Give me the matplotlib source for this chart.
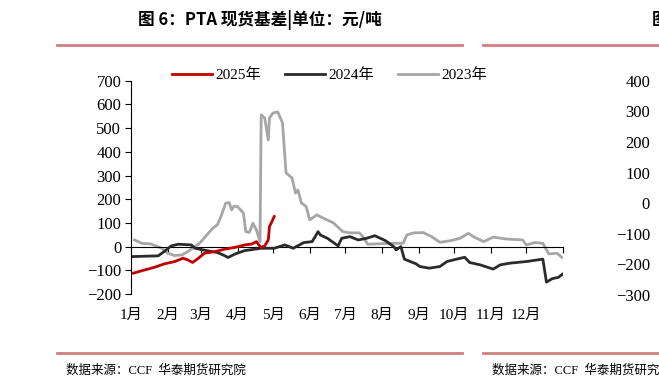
import matplotlib
matplotlib.use('Agg')
import matplotlib.pyplot as plt
from matplotlib.lines import Line2D

plt.rcParams['font.family'] = ['Liberation Serif', 'Noto Sans CJK SC']

# day of year -> basis (yuan/ton)
d25 = [2, 12, 20, 28, 37, 44, 48, 52, 57, 62, 71, 79, 88, 96, 102, 106, 108, 110, 113, 116, 117, 119, 121]
v25 = [-112, -98, -87, -73, -63, -49, -56, -67, -49, -28, -21, -11, -3, 7, 11, 21, 7, -3, 3, 28, 84, 105, 127]

d24 = [2, 23, 28, 34, 40, 51, 54, 65, 73, 79, 82, 88, 96, 110, 121, 130, 137, 146, 153, 156, 158, 160,
       166, 175, 178, 185, 192, 199, 206, 215, 222, 224, 228, 231, 236, 241, 244, 252, 261, 267, 275,
       282, 286, 295, 306, 312, 320, 334, 348, 351, 356, 361, 365]
v24 = [-42, -39, -21, 3, 10, 7, -7, -18, -25, -38, -46, -31, -17, -7, -7, 7, -7, 17, 21, 45, 63, 49,
       35, 3, 35, 42, 28, 35, 46, 25, 0, -14, 0, -53, -63, -73, -84, -91, -84, -63, -53,
       -45, -67, -77, -95, -77, -70, -63, -53, -150, -135, -130, -115]

d23 = [3, 9, 17, 26, 31, 37, 43, 48, 54, 58, 64, 69, 73, 76, 80, 83, 85, 87, 90, 95, 97, 100, 103, 106,
       109, 110, 113, 116, 117, 120, 124, 128, 131, 136, 139, 141, 144, 148, 151, 157, 162, 171, 179,
       185, 193, 196, 200, 210, 222, 230, 233, 239, 247, 254, 261, 270, 278, 285, 290, 298, 306, 317,
       331, 334, 341, 348, 353, 360, 364]
v23 = [28, 14, 11, -7, -28, -38, -35, -21, 0, 14, 49, 77, 92, 127, 183, 186, 155, 170, 169, 141, 63, 60,
       99, 70, 21, 556, 542, 450, 543, 564, 568, 522, 311, 290, 226, 239, 184, 169, 113, 134, 121, 100, 63,
       58, 58, 41, 10, 12, 14, 14, 49, 58, 59, 42, 18, 25, 35, 56, 40, 21, 40, 32,
       28, 7, 17, 14, -31, -28, -45]

month_ticks = [0, 31, 59, 90, 120, 151, 181, 212, 243, 273, 304, 334, 365]
month_labels = ['1月', '2月', '3月', '4月', '5月', '6月', '7月', '8月', '9月', '10月', '11月', '12月', '']
y_ticks = list(range(-200, 701, 100))
right_ticks = list(range(-300, 401, 100))

fig = plt.figure(figsize=(6.59, 3.89), dpi=100)
ax = fig.add_axes([131 / 659, 1 - 294 / 389, 432 / 659, (294 - 80.7) / 389])

ax.plot(d25, v25, color='#c00000', lw=2, label='2025年', zorder=4)
ax.plot(d24, v24, color='#2b2b2b', lw=2, label='2024年', zorder=3)
ax.plot(d23, v23, color='#a6a6a6', lw=2, label='2023年', zorder=2)

ax.set_xlim(0, 365)
ax.set_ylim(-200, 700)
ax.set_yticks(y_ticks)
ax.set_xticks(month_ticks)
ax.set_xticklabels(month_labels)
ax.spines['top'].set_visible(False)
ax.spines['right'].set_visible(False)
ax.spines['bottom'].set_position(('data', 0))
ax.tick_params(axis='y', direction='out', length=4, labelsize=12, pad=3)
ax.tick_params(axis='x', direction='out', length=4, labelsize=11, pad=41)

ax.legend(loc='lower center', bbox_to_anchor=(0.46, 0.93), ncol=3, frameon=False,
          fontsize=11, handlelength=2.6, columnspacing=1.6, handletextpad=0.2)

# neighbouring chart cut at the right edge
ax_r = fig.add_axes([657 / 659, 1 - 295 / 389, 0.05, (295 - 80.7) / 389])
ax_r.set_ylim(-300, 400)
ax_r.set_yticks(right_ticks)
ax_r.set_xticks([])
for s in ax_r.spines.values():
    s.set_visible(False)
ax_r.tick_params(axis='y', length=0, labelsize=12, pad=5)

fig.text(260 / 659, 1 - 20 / 389, '图 6：PTA 现货基差|单位：元/吨', ha='center', va='center',
         fontsize=12, fontweight='bold', family=['Noto Sans CJK SC'])
fig.text(652 / 659, 1 - 20 / 389, '图', ha='left', va='center',
         fontsize=12, fontweight='bold', family=['Noto Sans CJK SC'])
for x0, x1 in [(57, 462), (483, 659)]:
    for y in (45, 353):
        fig.add_artist(Line2D([x0 / 659, x1 / 659], [1 - y / 389] * 2, color='#cf7f7d', lw=2))
fig.text(66 / 659, 1 - 371 / 389, '数据来源：CCF  华泰期货研究院', ha='left', va='center', fontsize=9)
fig.text(492 / 659, 1 - 371 / 389, '数据来源：CCF  华泰期货研究院', ha='left', va='center', fontsize=9)

fig.savefig('out.png')
